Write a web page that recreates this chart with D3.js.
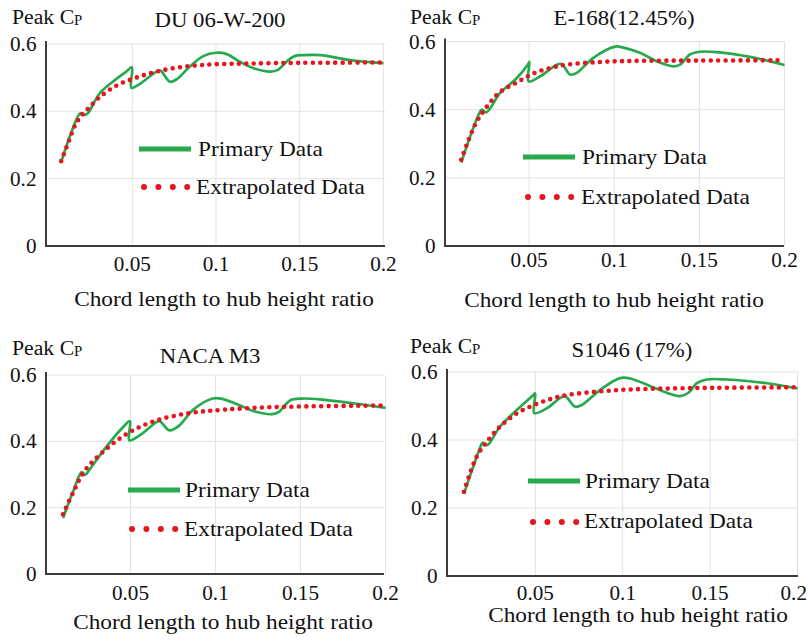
<!DOCTYPE html>
<html>
<head>
<meta charset="utf-8">
<script src="https://cdn.jsdelivr.net/npm/d3@7"></script>
<style>
body { margin: 0; background: #ffffff; }
</style>
</head>
<body>
<div id="chart"></div>
<script>
const panel_titles = ["DU 06-W-200", "E-168(12.45%)", "NACA M3", "S1046 (17%)"];
const x_ticks = [0.05, 0.1, 0.15, 0.2];
const x_tick_labels = ["0.05", "0.1", "0.15", "0.2"];
const y_ticks = [0, 0.2, 0.4, 0.6];
const y_tick_labels = ["0", "0.2", "0.4", "0.6"];
const x_label = "Chord length to hub height ratio";
const legend_labels = ["Primary Data", "Extrapolated Data"];

// [chord ratio, peak Cp]
const du_primary = [[0.0074, 0.248], [0.0134, 0.335], [0.019, 0.394], [0.0214, 0.389], [0.0234, 0.394],
	[0.0304, 0.453], [0.0384, 0.488], [0.0464, 0.518], [0.0498, 0.531], [0.0494, 0.470], [0.0544, 0.481],
	[0.0644, 0.518], [0.0668, 0.521], [0.0724, 0.488], [0.0764, 0.495], [0.0844, 0.533], [0.0924, 0.564],
	[0.1, 0.574], [0.1064, 0.570], [0.1144, 0.547], [0.1224, 0.528], [0.1324, 0.518], [0.137, 0.523],
	[0.142, 0.547], [0.147, 0.564], [0.1524, 0.567], [0.1624, 0.567], [0.18, 0.552], [0.2, 0.543]];
const du_extrapolated = [[0.0075, 0.252], [0.012, 0.31], [0.016, 0.36], [0.02, 0.39], [0.024, 0.41],
	[0.03, 0.44], [0.04, 0.475], [0.05, 0.496], [0.06, 0.512], [0.07, 0.524], [0.08, 0.532], [0.09, 0.537],
	[0.1, 0.54], [0.12, 0.542], [0.15, 0.544], [0.2, 0.545]];

const e168_primary = [[0.0101, 0.245], [0.0203, 0.385], [0.0222, 0.40], [0.0248, 0.392], [0.033, 0.449],
	[0.0428, 0.493], [0.0492, 0.532], [0.0502, 0.54], [0.0497, 0.483], [0.0565, 0.498], [0.0663, 0.532],
	[0.0692, 0.534], [0.0741, 0.503], [0.078, 0.508], [0.0877, 0.552], [0.1005, 0.585], [0.1053, 0.582],
	[0.1151, 0.567], [0.1249, 0.542], [0.1347, 0.527], [0.1386, 0.532], [0.1445, 0.562], [0.1503, 0.570],
	[0.1601, 0.569], [0.1797, 0.555], [0.2, 0.531]];
const e168_extrapolated = [[0.0101, 0.253], [0.0183, 0.356], [0.0261, 0.415], [0.033, 0.452], [0.0428, 0.48],
	[0.0525, 0.506], [0.0623, 0.522], [0.0721, 0.532], [0.0917, 0.540], [0.1112, 0.543], [0.1503, 0.544],
	[0.2, 0.545]];

const naca_primary = [[0.0103, 0.169], [0.0164, 0.251], [0.0213, 0.307], [0.0233, 0.299], [0.0262, 0.317],
	[0.036, 0.385], [0.0457, 0.443], [0.0497, 0.461], [0.0493, 0.403], [0.0554, 0.418], [0.0652, 0.458],
	[0.0671, 0.461], [0.073, 0.433], [0.0788, 0.448], [0.0866, 0.494], [0.0983, 0.529], [0.1032, 0.529],
	[0.114, 0.509], [0.1237, 0.489], [0.1334, 0.482], [0.1373, 0.489], [0.1441, 0.524], [0.151, 0.529],
	[0.1626, 0.526], [0.182, 0.514], [0.2, 0.501]];
const naca_extrapolated = [[0.0103, 0.18], [0.0164, 0.247], [0.0233, 0.313], [0.036, 0.378], [0.0496, 0.428],
	[0.0652, 0.463], [0.0847, 0.485], [0.104, 0.495], [0.1334, 0.503], [0.2, 0.508]];

const s1046_primary = [[0.0091, 0.241], [0.0144, 0.321], [0.0192, 0.388], [0.0198, 0.392], [0.0225, 0.385],
	[0.0297, 0.439], [0.0393, 0.488], [0.0488, 0.532], [0.0499, 0.537], [0.0494, 0.479], [0.0565, 0.493],
	[0.0641, 0.523], [0.067, 0.529], [0.0727, 0.498], [0.0765, 0.503], [0.087, 0.547], [0.0984, 0.582],
	[0.1042, 0.581], [0.1156, 0.559], [0.1252, 0.539], [0.1328, 0.529], [0.1376, 0.539], [0.1424, 0.567],
	[0.1481, 0.578], [0.1596, 0.578], [0.1825, 0.567], [0.2, 0.552]];
const s1046_extrapolated = [[0.0091, 0.248], [0.0164, 0.351], [0.023, 0.40], [0.0297, 0.439], [0.0393, 0.478],
	[0.0488, 0.502], [0.0584, 0.52], [0.0679, 0.532], [0.087, 0.543], [0.1061, 0.549], [0.1443, 0.553],
	[0.2, 0.555]];

const primary_series = [du_primary, e168_primary, naca_primary, s1046_primary];
const extrapolated_series = [du_extrapolated, e168_extrapolated, naca_extrapolated, s1046_extrapolated];

// pixel layout of each panel
const layout = [
	{left: 46, right: 385, x_zero: 48.6, x_end: 383.4, y_zero: 246, y_top: 44, tick_gap: 25,
	 title: [220, 27], cp: [12, 24], xlabel: [224, 306],
	 legend1: [139, 191, 149, 198, 156], legend2: [144, 187, 196, 194]},
	{left: 445, right: 784, x_zero: 444, x_end: 784.5, y_zero: 246, y_top: 41.5, tick_gap: 21,
	 title: [624, 25], cp: [410, 24], xlabel: [614, 307],
	 legend1: [523, 575, 157, 582, 164], legend2: [528, 197, 581, 204]},
	{left: 46, right: 384, x_zero: 45.5, x_end: 385.5, y_zero: 574, y_top: 375, tick_gap: 26,
	 title: [210, 363], cp: [12, 355], xlabel: [223, 629],
	 legend1: [128, 180, 490, 185, 497], legend2: [132, 529, 184, 536]},
	{left: 447, right: 798, x_zero: 448, x_end: 797.5, y_zero: 576, y_top: 372, tick_gap: 24,
	 title: [632, 357], cp: [410, 353], xlabel: [638, 622],
	 legend1: [528, 580, 481, 585, 488], legend2: [533, 522, 584, 528]},
];

const font = "'Liberation Serif', 'Times New Roman', Times, 'DejaVu Serif', serif";
// the source figure is a little wider than tall, so the lettering is stretched sideways
const text_stretch = 1.06;
const green = "#25aa4e";
const red = "#e8141c";
const grid_color = "#e2e2e2";
const axis_color = "#3c3c3c";
const page_width = 808;

const svg = d3.select("#chart")
	.append("svg")
		.attr("width", page_width)
		.attr("height", 641)
		.attr("font-family", font);

function add_text(parent, x, y, size, anchor, str) {
	return parent.append("text")
		.attr("transform", "translate(" + x + "," + y + ") scale(" + text_stretch + ",1)")
		.attr("text-anchor", anchor)
		.attr("font-family", font)
		.attr("font-size", size)
		.attr("fill", "#111111")
		.text(str);
}

layout.forEach((p, k) => {
	const g = svg.append("g");
	const x = d3.scaleLinear().domain([0, 0.2]).range([p.x_zero, p.x_end]);
	const y = d3.scaleLinear().domain([0, 0.6]).range([p.y_zero, p.y_top]);

	// grid
	g.append("g")
		.selectAll("line")
		.data(x_ticks)
		.join("line")
			.attr("x1", d => x(d))
			.attr("x2", d => x(d))
			.attr("y1", y(0.6))
			.attr("y2", y(0))
			.attr("stroke", grid_color)
			.attr("stroke-width", 1);
	g.append("g")
		.selectAll("line")
		.data(y_ticks.filter(d => d > 0))
		.join("line")
			.attr("x1", p.left)
			.attr("x2", p.right)
			.attr("y1", d => y(d))
			.attr("y2", d => y(d))
			.attr("stroke", grid_color)
			.attr("stroke-width", 1);

	// axes lines
	g.append("line")
		.attr("x1", p.left).attr("x2", p.left)
		.attr("y1", y(0.6) - 3).attr("y2", y(0) + 1)
		.attr("stroke", axis_color).attr("stroke-width", 2);
	g.append("line")
		.attr("x1", p.left - 1).attr("x2", p.right)
		.attr("y1", y(0)).attr("y2", y(0))
		.attr("stroke", axis_color).attr("stroke-width", 2);

	// tick labels
	y_ticks.forEach((d, i) => add_text(g, p.left - 9.5, y(d) + 7, 20, "end", y_tick_labels[i]));
	x_ticks.forEach((d, i) => {
		const t = add_text(g, x(d), y(0) + p.tick_gap, 20, "middle", x_tick_labels[i]);
		// keep the last label inside the page
		const half = t.node().getComputedTextLength() * text_stretch / 2;
		if (x(d) + half > page_width - 1) {
			t.attr("transform", "translate(" + (page_width - 1 - half) + "," + (y(0) + p.tick_gap) + ") scale(" + text_stretch + ",1)");
		}
	});

	// titles
	add_text(g, p.title[0], p.title[1], 21.5, "middle", panel_titles[k]);
	const cp = add_text(g, p.cp[0], p.cp[1], 20.5, "start", null);
	cp.append("tspan").text("Peak C");
	cp.append("tspan").attr("dy", 1).attr("font-size", 14).text("P");
	add_text(g, p.xlabel[0], p.xlabel[1], 22, "middle", x_label);

	// series
	const line = d3.line()
		.x(d => x(d[0]))
		.y(d => y(d[1]))
		.curve(d3.curveCatmullRom.alpha(0.5));
	g.append("path")
		.attr("d", line(primary_series[k]))
		.attr("fill", "none")
		.attr("stroke", green)
		.attr("stroke-width", 2.7);
	g.append("path")
		.attr("d", line(extrapolated_series[k]))
		.attr("fill", "none")
		.attr("stroke", red)
		.attr("stroke-width", 4.6)
		.attr("stroke-linecap", "round")
		.attr("stroke-dasharray", "0 7.4");

	// legend
	g.append("line")
		.attr("x1", p.legend1[0]).attr("x2", p.legend1[1])
		.attr("y1", p.legend1[2]).attr("y2", p.legend1[2])
		.attr("stroke", green).attr("stroke-width", 5);
	add_text(g, p.legend1[3], p.legend1[4], 22, "start", legend_labels[0]);
	g.append("g")
		.selectAll("circle")
		.data(d3.range(4))
		.join("circle")
			.attr("cx", i => p.legend2[0] + i * 14.4)
			.attr("cy", p.legend2[1])
			.attr("r", 3)
			.attr("fill", red);
	add_text(g, p.legend2[2], p.legend2[3], 22, "start", legend_labels[1]);
});
</script>
</body>
</html>
